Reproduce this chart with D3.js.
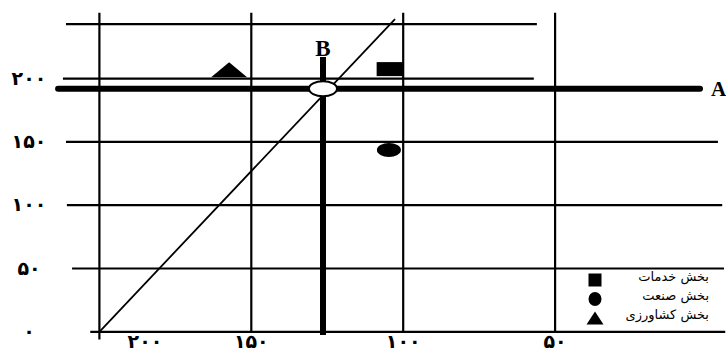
<!DOCTYPE html>
<html><head><meta charset="utf-8">
<script src="https://cdn.jsdelivr.net/npm/d3@7"></script>
<style>body{margin:0;background:#fff}svg{display:block}</style>
</head><body>
<script>
// ---- data (values in chart units) ----
const xTickValues = [200, 150, 100, 50];
const xTickLabelPos = [185, 150, 100, 50];
const xTickLabels = ["۲۰۰", "۱۵۰", "۱۰۰", "۵۰"];
const yTickValues = [0, 50, 100, 150, 200];
const yTickLabels = ["۰", "۵۰", "۱۰۰", "۱۵۰", "۲۰۰"];
// horizontal grid lines: [value, from x, to x]
const hGrid = [[243, 211, 56], [200, 212, 57], [150, 211, -3.6], [100, 210.7, -5], [50, 209, -5.6], [0, 203, -6]];
const vGridTop = 252;
const vGridBottom = [-6, 0, 0, 0];
const lineA = { y: 192, x0: 213.6, x1: 2.3, label: "A" };
const lineB = { x: 126.4, y0: 217, y1: -2.5, label: "B" };
const equilibrium = { x: 126.4, y: 192 };
const diagonal = [[200, 0], [102.7, 247]];
const seriesNames = ["بخش خدمات", "بخش صنعت", "بخش کشاورزی"];
const seriesShapes = ["square", "circle", "triangle"];
const seriesX = [104.3, 104.7, 157.3];
const seriesY = [207.5, 143.6, 207];

// ---- drawing ----
const W = 726, H = 356;
const svg = d3.select("body").append("svg").attr("width", W).attr("height", H);
const x = d3.scaleLinear().domain([0, 200]).range([707, 99.4]);
const y = d3.scaleLinear().domain([0, 200]).range([331.8, 78.6]);

// horizontal grid
svg.append("g").selectAll("line").data(hGrid).join("line")
  .attr("x1", d => x(d[1])).attr("x2", d => x(d[2]))
  .attr("y1", d => y(d[0])).attr("y2", d => y(d[0]))
  .attr("stroke", "#000").attr("stroke-width", 2.2);

// vertical grid
svg.append("g").selectAll("line").data(xTickValues).join("line")
  .attr("x1", d => x(d)).attr("x2", d => x(d))
  .attr("y1", y(vGridTop)).attr("y2", (d, i) => y(vGridBottom[i]))
  .attr("stroke", "#000").attr("stroke-width", 2.2);

// diagonal
svg.append("line")
  .attr("x1", x(diagonal[0][0])).attr("y1", y(diagonal[0][1]))
  .attr("x2", x(diagonal[1][0])).attr("y2", y(diagonal[1][1]))
  .attr("stroke", "#000").attr("stroke-width", 1.8);

// thick line A
svg.append("line")
  .attr("x1", x(lineA.x0)).attr("x2", x(lineA.x1))
  .attr("y1", y(lineA.y)).attr("y2", y(lineA.y))
  .attr("stroke", "#000").attr("stroke-width", 6).attr("stroke-linecap", "round");
svg.append("text").attr("x", x(lineA.x1) + 11).attr("y", y(lineA.y) + 7)
  .attr("font-family", "Liberation Serif").attr("font-weight", "bold").attr("font-size", 21)
  .text(lineA.label);

// thick line B
svg.append("line")
  .attr("x1", x(lineB.x)).attr("x2", x(lineB.x))
  .attr("y1", y(lineB.y0)).attr("y2", y(lineB.y1))
  .attr("stroke", "#000").attr("stroke-width", 6);
svg.append("text").attr("x", x(lineB.x)).attr("y", y(lineB.y0) - 1)
  .attr("text-anchor", "middle")
  .attr("font-family", "Liberation Serif").attr("font-weight", "bold").attr("font-size", 23)
  .text(lineB.label);

// equilibrium ellipse
svg.append("ellipse").attr("cx", x(equilibrium.x)).attr("cy", y(equilibrium.y))
  .attr("rx", 14).attr("ry", 7.5).attr("fill", "#fff").attr("stroke", "#000").attr("stroke-width", 2);

// markers
function drawShape(g, shape, cx, cy, w, h) {
  if (shape === "square") g.append("rect").attr("x", cx - w / 2).attr("y", cy - h / 2).attr("width", w).attr("height", h).attr("fill", "#000");
  else if (shape === "circle") g.append("ellipse").attr("cx", cx).attr("cy", cy).attr("rx", w / 2).attr("ry", h / 2).attr("fill", "#000");
  else g.append("path").attr("d", `M${cx - w / 2},${cy + h / 2}L${cx},${cy - h / 2}L${cx + w / 2},${cy + h / 2}Z`).attr("fill", "#000");
}
const markSizes = { square: [27, 14], circle: [24, 14], triangle: [36, 15] };
const mg = svg.append("g");
seriesShapes.forEach((s, i) => drawShape(mg, s, x(seriesX[i]), y(seriesY[i]), markSizes[s][0], markSizes[s][1]));

// axis labels
svg.append("g").selectAll("text").data(yTickValues).join("text")
  .attr("x", 29).attr("y", d => y(d) + 6).attr("text-anchor", "middle")
  .attr("font-family", "DejaVu Sans").attr("font-weight", "bold").attr("font-size", 19)
  .text((d, i) => yTickLabels[i]);
svg.append("g").selectAll("text").data(xTickLabelPos).join("text")
  .attr("x", d => x(d)).attr("y", 348).attr("text-anchor", "middle")
  .attr("font-family", "DejaVu Sans").attr("font-weight", "bold").attr("font-size", 19)
  .text((d, i) => xTickLabels[i]);

// legend
const lg = svg.append("g");
const legendSizes = { square: [13, 13], circle: [13, 14], triangle: [17, 13] };
seriesNames.forEach((n, i) => {
  const cy = 280 + i * 19;
  drawShape(lg, seriesShapes[i], 595, cy, legendSizes[seriesShapes[i]][0], legendSizes[seriesShapes[i]][1]);
  lg.append("text").attr("x", 709).attr("y", cy + 1).attr("text-anchor", "end")
    .attr("font-family", "DejaVu Sans").attr("font-size", 13)
    .text(n);
});
</script>
</body></html>
